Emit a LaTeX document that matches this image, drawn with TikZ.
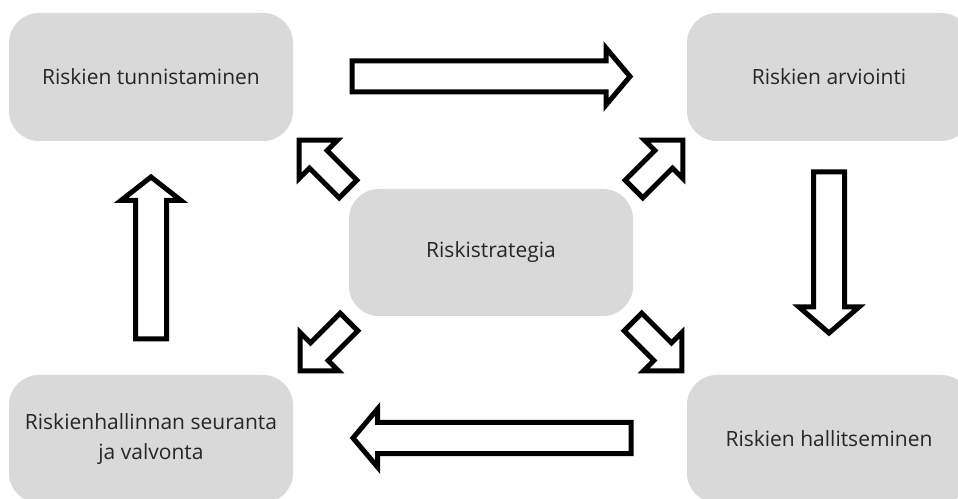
\documentclass[tikz,border=0pt]{standalone}
\usepackage{fontspec}
\setmainfont{Open Sans}
\definecolor{boxgray}{HTML}{D9D9D9}
\definecolor{txtgray}{HTML}{262626}
\tikzset{
  riskbox/.style={fill=boxgray, rounded corners=30pt, minimum width=284pt,
    minimum height=128pt, text=txtgray, font=\fontsize{21}{30}\selectfont,
    align=center, inner sep=0pt},
  blockarrow/.style={draw=black, fill=white, line width=5pt}
}
% #1 tail coordinate, #2 angle, #3 length, #4 shaft half width, #5 head half width, #6 head length
\newcommand\blkarrow[6]{%
  \draw[blockarrow, shift={(#1)}, rotate=#2]
    (0,-#4) -- ({#3-#6},-#4) -- ({#3-#6},-#5) -- (#3,0) --
    ({#3-#6},#5) -- ({#3-#6},#4) -- (0,#4) -- cycle;}
\begin{document}
\begin{tikzpicture}[x=1pt,y=1pt]
\useasboundingbox (0,0) rectangle (958,498);
\clip (0,0) rectangle (958,498);
\fill[white] (0,0) rectangle (958,498);

\node[riskbox] (tunn) at (151,421) {Riskien tunnistaminen};
\node[riskbox] (arv) at (829,421) {Riskien arviointi};
\node[riskbox, minimum height=127pt] (strat) at (491,245.5) {Riskistrategia};
\node[riskbox] (hall) at (829,59) {Riskien hallitseminen};
\node[riskbox] (seur) at (151,59) {Riskienhallinnan seuranta\\ja valvonta};

\coordinate (a1) at (352,421.5);
\coordinate (a2) at (829,326);
\coordinate (a3) at (631,60);
\coordinate (a4) at (151,159);
\blkarrow{a1}{0}{278}{15.5}{28.5}{24}
\blkarrow{a2}{-90}{161}{15.5}{30}{26}
\blkarrow{a3}{180}{278}{15.5}{29}{24.5}
\blkarrow{a4}{90}{162}{15.5}{30}{23.5}

\coordinate (d1) at (348,309);
\coordinate (d2) at (634,309);
\coordinate (d3) at (349,176);
\coordinate (d4) at (633,176);
\blkarrow{d1}{135}{69}{12.5}{27}{27}
\blkarrow{d2}{45}{69}{12.5}{27}{27}
\blkarrow{d3}{225}{69}{12.5}{27}{27}
\blkarrow{d4}{-45}{69}{12.5}{27}{27}
\end{tikzpicture}
\end{document}
